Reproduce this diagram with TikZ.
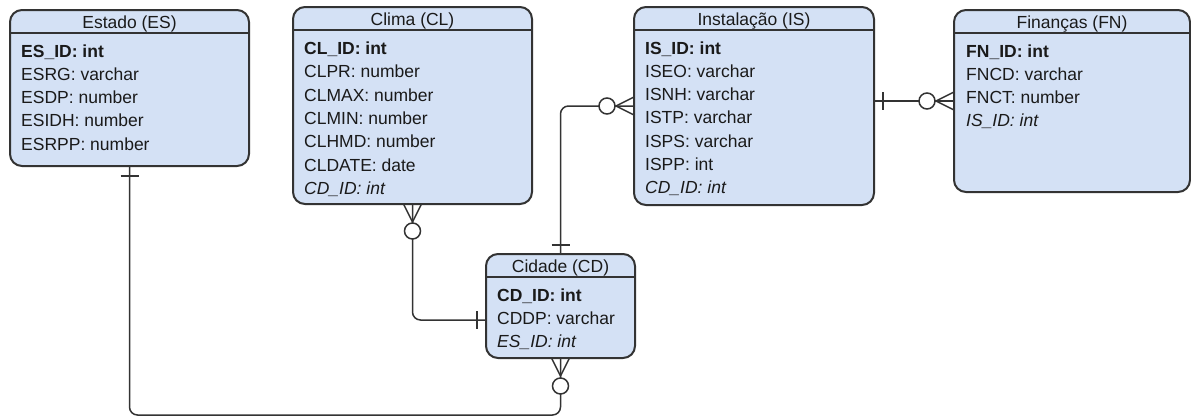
\documentclass[tikz,border=0pt]{standalone}
\usepackage{fontspec}
\setmainfont{Liberation Sans}
\usetikzlibrary{calc}
\definecolor{entfill}{HTML}{D4E1F5}
\definecolor{entline}{HTML}{333333}
\definecolor{txt}{HTML}{1A1A1A}
\tikzset{
  entity/.style={draw=entline, fill=entfill, line width=2pt, rounded corners=12pt,
    inner sep=0pt, outer sep=0pt, anchor=north west},
  divider/.style={draw=entline, line width=1.6pt},
  title/.style={font=\fontsize{17.5}{21}\selectfont, text=txt, anchor=base, inner sep=0pt},
  row/.style={font=\fontsize{17.5}{21}\selectfont, text=txt, anchor=base west, inner sep=0pt},
  link/.style={draw=entline, line width=1.5pt, rounded corners=8pt},
  foot/.style={draw=entline, line width=1.5pt},
  ring/.style={draw=entline, fill=white, line width=1.5pt},
}
\begin{document}
\begin{tikzpicture}[x=1pt, y=-1pt]
\useasboundingbox (0,0) rectangle (1191,418);

% ---- entities ----
\node[entity, minimum width=239pt, minimum height=156pt] (es) at (10,10) {};
\node[entity, minimum width=239pt, minimum height=197pt] (cl) at (293,7) {};
\node[entity, minimum width=240pt, minimum height=198pt] (is) at (634,7) {};
\node[entity, minimum width=236pt, minimum height=182pt] (fn) at (954,10) {};
\node[entity, minimum width=149pt, minimum height=104pt] (cd) at (486,254) {};

\foreach \e in {es,cl,is,fn,cd}
  \draw[divider] ([yshift=-23pt]\e.north west) -- ([yshift=-23pt]\e.north east);

% ---- titles ----
\node[title] (es-t) at ($(es.north)+(0,18.5)$) {Estado (ES)};
\node[title] (cl-t) at ($(cl.north)+(0,18.5)$) {Clima (CL)};
\node[title] (is-t) at ($(is.north)+(0,18.5)$) {Instalação (IS)};
\node[title] (fn-t) at ($(fn.north)+(0,18.5)$) {Finanças (FN)};
\node[title] (cd-t) at ($(cd.north)+(0,18.5)$) {Cidade (CD)};

% ---- attribute rows ----
\foreach \t [count=\i] in {{\textbf{ES\_ID: int}}, ESRG: varchar, ESDP: number, ESIDH: number, ESRPP: number}
  \node[row] (es-\i) at ($(es.north west)+(11,{47+23.33*(\i-1)})$) {\t};
\foreach \t [count=\i] in {{\textbf{CL\_ID: int}}, CLPR: number, CLMAX: number, CLMIN: number, CLHMD: number, CLDATE: date, {\textit{CD\_ID: int}}}
  \node[row] (cl-\i) at ($(cl.north west)+(11,{47.5+23.33*(\i-1)})$) {\t};
\foreach \t [count=\i] in {{\textbf{IS\_ID: int}}, ISEO: varchar, ISNH: varchar, ISTP: varchar, ISPS: varchar, ISPP: int, {\textit{CD\_ID: int}}}
  \node[row] (is-\i) at ($(is.north west)+(11,{47+23.33*(\i-1)})$) {\t};
\foreach \t [count=\i] in {{\textbf{FN\_ID: int}}, FNCD: varchar, FNCT: number, {\textit{IS\_ID: int}}}
  \node[row] (fn-\i) at ($(fn.north west)+(12,{47+23.33*(\i-1)})$) {\t};
\foreach \t [count=\i] in {{\textbf{CD\_ID: int}}, CDDP: varchar, {\textit{ES\_ID: int}}}
  \node[row] (cd-\i) at ($(cd.north west)+(11,{47+23.33*(\i-1)})$) {\t};

% ---- connector end points ----
\coordinate (cdw) at ($(cd.west)+(0,14)$);
\coordinate (ise) at (is.east |- fn.west);

% ---- connectors ----
\draw[link] (es.south) -- ++(0,249) -| (cd.south);
\draw[link] (cl.south) |- (cdw);
\draw[link] (is.west) -| (cd.north);
\draw[link] (ise) -- (fn.west);

% ---- one (bar) ends ----
\draw[foot] ($(es.south)+(-9,10)$) -- ($(es.south)+(9,10)$);
\draw[foot] ($(cd.north)+(-9,-9)$) -- ($(cd.north)+(9,-9)$);
\draw[foot] ($(cdw)+(-9,-9)$) -- ($(cdw)+(-9,9)$);
\draw[foot] ($(ise)+(9,-9)$) -- ($(ise)+(9,9)$);

% ---- zero-or-many (crow's foot) ends ----
\draw[foot] ($(cl.south)+(-9,0)$) -- ($(cl.south)+(0,18)$) -- ($(cl.south)+(9,0)$);
\draw[ring] ($(cl.south)+(0,27)$) circle (8pt);

\draw[foot] ($(cd.south)+(-9,0)$) -- ($(cd.south)+(0,18)$) -- ($(cd.south)+(9,0)$);
\draw[ring] ($(cd.south)+(0,28)$) circle (8pt);

\draw[foot] ($(is.west)+(0,-9)$) -- ($(is.west)+(-18,0)$) -- ($(is.west)+(0,9)$);
\draw[ring] ($(is.west)+(-27,0)$) circle (8pt);

\draw[foot] ($(fn.west)+(0,-9)$) -- ($(fn.west)+(-18,0)$) -- ($(fn.west)+(0,9)$);
\draw[ring] ($(fn.west)+(-27,0)$) circle (8pt);
\end{tikzpicture}
\end{document}
